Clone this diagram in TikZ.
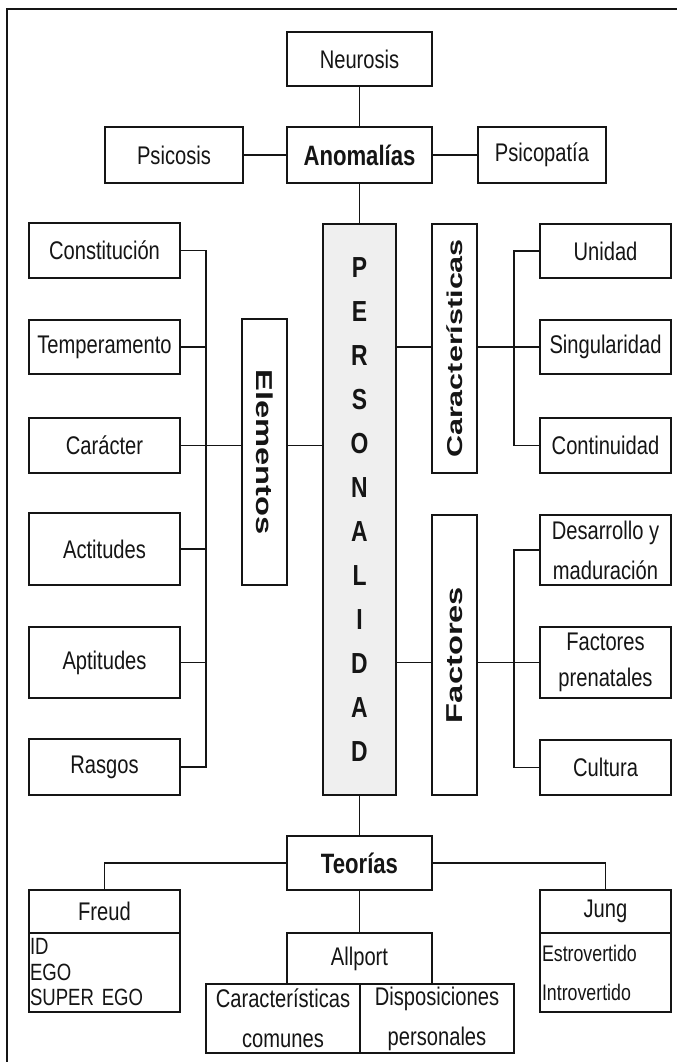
\documentclass[tikz,border=0pt]{standalone}
\usepackage{fontspec}
\setmainfont{Liberation Sans}
\newfontfamily\hfont{Liberation Sans}[FakeStretch=0.79]
\newfontfamily\vfont{Liberation Sans}[FakeStretch=1.42]
\definecolor{ink}{HTML}{151515}
\definecolor{persfill}{HTML}{EFEFEF}
\begin{document}
\begin{tikzpicture}[x=1pt,y=-1pt,
  box/.style={draw=ink, line width=1.9pt, fill=white, inner sep=0pt, align=center, text=ink, font=\fontsize{25.5}{36}\hfont},
  titlebox/.style={box, font=\fontsize{28}{30}\hfont\bfseries},
  vtitle/.style={box, font=\fontsize{23}{24}\vfont\bfseries},
  link/.style={draw=ink, line width=1.6pt},
]
\useasboundingbox (0,0) rectangle (677,1062);
% frame
\coordinate (fbl) at (7,1062);
\coordinate (ftl) at (7,9);
\coordinate (ftr) at (677,9);
\draw[draw=ink, line width=2.2pt] (fbl) -- (ftl) -- (ftr);

% top
\node[box, minimum width=145, minimum height=54] (neur) at (359.5,59) {Neurosis};
\node[titlebox, minimum width=145, minimum height=56] (anom) at (359.5,155) {Anomalías};
\node[box, minimum width=138, minimum height=56] (psic) at (174,155) {Psicosis};
\node[box, minimum width=128, minimum height=56] (psicop) at (542,155) {Psicopatía};

% center
\node[box, fill=persfill, minimum width=73, minimum height=571, font=\fontsize{29}{44}\hfont\bfseries] (pers) at (359.5,509.5) {P\\E\\R\\S\\O\\N\\A\\L\\I\\D\\A\\D};

% left column
\node[box, minimum width=151, minimum height=55] (cons) at (104.5,250.5) {Constitución};
\node[box, minimum width=151, minimum height=54] (temp) at (104.5,347) {Temperamento};
\node[box, minimum width=151, minimum height=55] (carac) at (104.5,445.5) {Carácter};
\node[box, minimum width=151, minimum height=72] (acti) at (104.5,549) {Actitudes};
\node[box, minimum width=151, minimum height=71] (apti) at (104.5,662.5) {Aptitudes};
\node[box, minimum width=151, minimum height=56] (rasg) at (104.5,767) {Rasgos};

% vertical titles
\node[vtitle, minimum width=45, minimum height=266] (elem) at (264.5,452) {\rotatebox{-90}{Elementos}};
\node[vtitle, minimum width=45, minimum height=249, font=\fontsize{21.5}{24}\vfont\bfseries] (cara) at (454.5,348.5) {\rotatebox{90}{Características}};
\node[vtitle, minimum width=45, minimum height=280] (fact) at (454.5,655) {\rotatebox{90}{Factores}};

% right column
\node[box, minimum width=131, minimum height=54] (unid) at (605.5,251) {Unidad};
\node[box, minimum width=131, minimum height=54] (sing) at (605.5,347) {Singularidad};
\node[box, minimum width=131, minimum height=55] (cont) at (605.5,445.5) {Continuidad};
\node[box, minimum width=131, minimum height=70, font=\fontsize{25.5}{40}\hfont] (desa) at (605.5,550) {Desarrollo y\\maduración};
\node[box, minimum width=131, minimum height=71, font=\fontsize{25.5}{36}\hfont] (fpre) at (605.5,662.5) {Factores\\prenatales};
\node[box, minimum width=131, minimum height=55] (cult) at (605.5,767.5) {Cultura};

% bottom
\node[titlebox, minimum width=145, minimum height=54] (teor) at (359.5,863) {Teorías};
\node[box, minimum width=151, minimum height=43] (freud) at (104.5,911.5) {Freud};
\node[box, minimum width=151, minimum height=79, text width=149, align=left, font=\fontsize{23.5}{25.5}\hfont] (freudl) at (104.5,972.5) {ID\\EGO\\SUPER EGO};
\node[box, minimum width=131, minimum height=43] (jung) at (605.5,911.5) {Jung};
\node[box, minimum width=131, minimum height=79, text width=127, align=left, font=\fontsize{22.5}{39}\hfont] (jungl) at (605.5,972.5) {Estrovertido\\Introvertido};
\node[box, minimum width=145, minimum height=51] (allp) at (359.5,958.5) {Allport};
\node[box, minimum width=154, minimum height=69, font=\fontsize{25.5}{40}\hfont] (cc) at (283,1018.5) {Características\\comunes};
\node[box, minimum width=154, minimum height=69, font=\fontsize{25.5}{40}\hfont] (dp) at (437,1018.5) {Disposiciones\\personales};

% connectors
\coordinate (lbus) at (206,0);
\coordinate (rbus) at (514,0);
\draw[link] (neur) -- (anom);
\draw[link] (anom) -- (pers);
\draw[link] (psic) -- (anom);
\draw[link] (anom) -- (psicop);
\draw[link] (cons.east) -- (cons.east -| lbus) -- (rasg.east -| lbus) -- (rasg.east);
\foreach \nn in {temp,acti,apti} \draw[link] (\nn.east) -- (\nn.east -| lbus);
\draw[link] (carac.east) -- (carac.east -| elem.west);
\draw[link] (carac.east -| elem.east) -- (carac.east -| pers.west);
\draw[link] (sing.west -| pers.east) -- (sing.west -| cara.west);
\draw[link] (sing.west -| cara.east) -- (sing.west);
\draw[link] (unid.west) -- (unid.west -| rbus) -- (cont.west -| rbus) -- (cont.west);
\draw[link] (fpre.west -| pers.east) -- (fpre.west -| fact.west);
\draw[link] (fpre.west -| fact.east) -- (fpre.west);
\draw[link] (desa.west) -- (desa.west -| rbus) -- (cult.west -| rbus) -- (cult.west);
\draw[link] (pers) -- (teor);
\draw[link] (teor.west) -| (freud.north);
\draw[link] (teor.east) -| (jung.north);
\draw[link] (teor) -- (allp);
\end{tikzpicture}
\end{document}
